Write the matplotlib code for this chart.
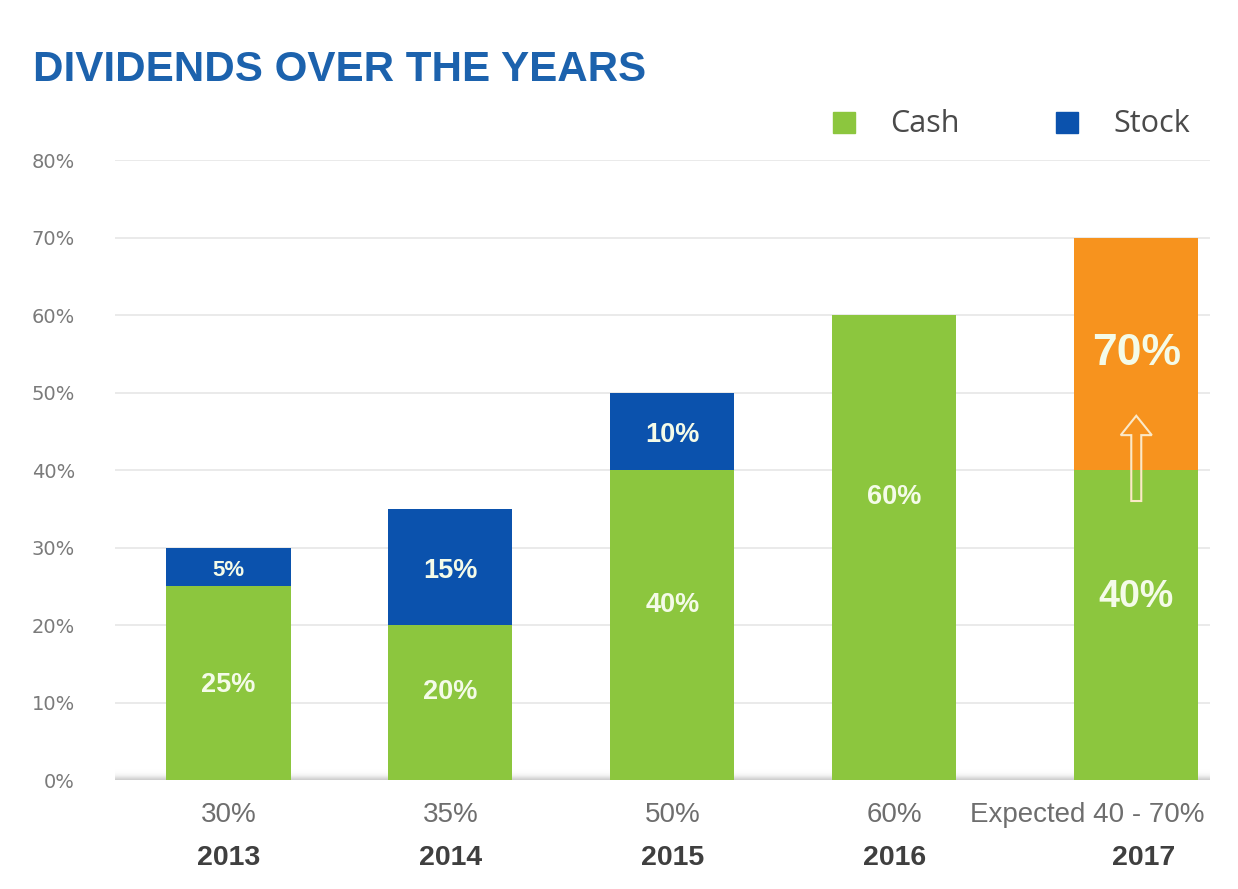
import numpy as np
import matplotlib
matplotlib.use("Agg")
import matplotlib.pyplot as plt
from matplotlib.patches import FancyArrow

years = ["2013", "2014", "2015", "2016", "2017"]
totals = ["30%", "35%", "50%", "60%", "Expected 40 - 70%"]
cash = [25, 20, 40, 60, 40]
stock = [5, 15, 10, 0, 0]
expected = [0, 0, 0, 0, 30]   # upside range on top of cash for 2017
yticks = [0, 10, 20, 30, 40, 50, 60, 70, 80]

GREEN = "#8cc63e"
BLUE = "#0b52ad"
ORANGE = "#f7931e"
TITLE_BLUE = "#1c62ad"

fig = plt.figure(figsize=(12.38, 8.89), dpi=100)
ax = fig.add_axes([0.093, 0.1226, 0.884, 0.6974])

# the projected year sits slightly apart from the reported ones
x = np.arange(len(years), dtype=float)
x[-1] += 0.09
width = 0.56
XLIM = (-0.51, 4.42)

ax.bar(x, cash, width, color=GREEN, zorder=3)
ax.bar(x, stock, width, bottom=cash, color=BLUE, zorder=3)
ax.bar(x, expected, width, bottom=cash, color=ORANGE, zorder=3)

ax.set_xlim(*XLIM)
ax.set_ylim(0, 80)
ax.set_yticks(yticks)
ax.set_yticklabels([f"{v}%" for v in yticks], fontsize=14, color="#7a7a7a",
                   family="DejaVu Sans")
ax.tick_params(axis="y", length=0, pad=29)
ax.tick_params(axis="x", length=0, labelbottom=False)
for s in ax.spines.values():
    s.set_visible(False)
ax.yaxis.grid(True, color="#e6e6e6", linewidth=1.2, zorder=0)
ax.set_axisbelow(True)

# soft shadow under the baseline
grad = np.exp(-((np.linspace(-1, 1, 60)) ** 2) / 0.15)[:, None]
ax.imshow(grad, extent=(XLIM[0], XLIM[1], -1.8, 1.6), aspect="auto",
          cmap="Greys", vmin=0, vmax=3.2, zorder=1, interpolation="bilinear")
ax.set_ylim(0, 80)
ax.set_xlim(*XLIM)

# value labels inside the bars
label_kw = dict(ha="center", va="center", color="#f4fbe8", fontweight="bold",
                family="Liberation Sans", zorder=5)
cash_label_y = [12.3, 11.4, 22.6, 36.5, 23.6]
for i, (c, s, e) in enumerate(zip(cash, stock, expected)):
    xi = x[i]
    ax.text(xi, cash_label_y[i], f"{c}%", fontsize=27 if e else 19.5,
            **label_kw)
    if s:
        ax.text(xi, c + s / 2 - 0.5, f"{s}%", fontsize=16 if s < 10 else 19.5,
                **label_kw)
    if e:
        ax.text(xi, c + e / 2, f"{c + e}%", fontsize=32, **label_kw)
        arrow = FancyArrow(xi, c - 4, 0, 11, width=0.045, head_width=0.14,
                           head_length=2.5, length_includes_head=True,
                           facecolor="none", edgecolor="#fbe9c8",
                           linewidth=1.5, zorder=5)
        ax.add_patch(arrow)

# category labels below the axis
totals_dx = [0, 0, 0, 0, -35]
years_dx = [0, 0, 0, 0, 5]
for i in range(len(years)):
    ax.annotate(totals[i], (x[i], 0), xytext=(totals_dx[i], -25),
                textcoords="offset points", ha="center", va="center",
                fontsize=20, color="#6e6e6e", family="Liberation Sans")
    ax.annotate(years[i], (x[i], 0), xytext=(years_dx[i], -56),
                textcoords="offset points", ha="center", va="center",
                fontsize=20.5, color="#3f3f3f", fontweight="bold",
                family="Liberation Sans")

# title
fig.text(0.027, 0.921, "DIVIDENDS OVER THE YEARS", fontsize=30.3,
         fontweight="bold", color=TITLE_BLUE, family="Liberation Sans",
         ha="left", va="center")

# legend
for (px, name, col) in [(0.673, "Cash", GREEN), (0.853, "Stock", BLUE)]:
    fig.patches.append(plt.Rectangle((px, 0.850), 0.018, 0.024,
                                     transform=fig.transFigure, color=col))
    fig.text(px + 0.046, 0.861, name, fontsize=22, color="#4a4a4a",
             family="Open Sans", ha="left", va="center")

fig.savefig("out.png", dpi=100, facecolor="white")
